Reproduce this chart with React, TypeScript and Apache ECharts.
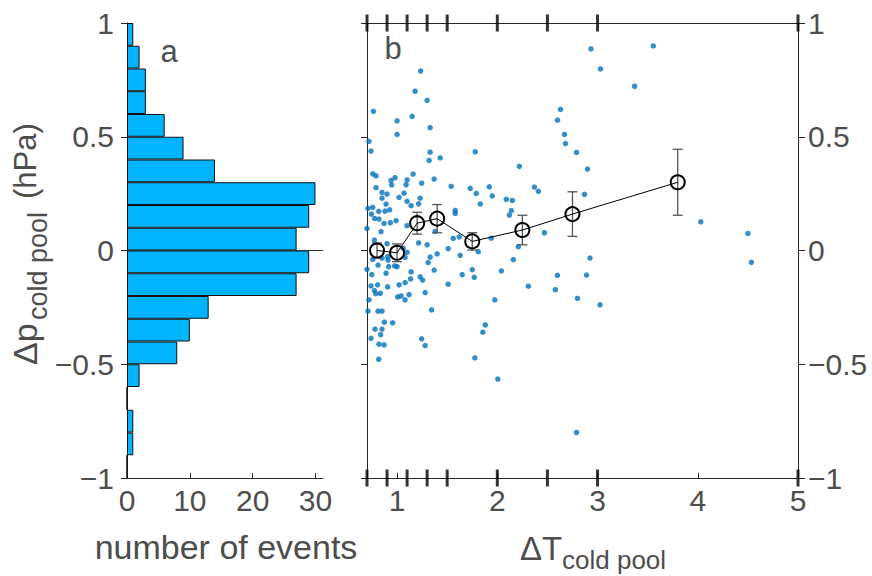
import React, { useEffect, useRef } from 'react';
import * as echarts from 'echarts';

// Histogram (panel a): bins of Δp (lower edges, hPa), counted from bottom to top
const histBins = ['-1.0', '-0.9', '-0.8', '-0.7', '-0.6', '-0.5', '-0.4', '-0.3', '-0.2', '-0.1',
  '0.0', '0.1', '0.2', '0.3', '0.4', '0.5', '0.6', '0.7', '0.8', '0.9'];
const histCounts = [0, 1, 1, 0, 2, 8, 10, 13, 27, 29, 27, 29, 30, 14, 9, 6, 3, 3, 2, 1];
const histMax = 31.2;
const histTicks = [0, 10, 20, 30];

// Scatter (panel b): [ΔT cold pool, Δp cold pool]
const scatterPoints: [number, number][] = [
  [2.935, 0.886], [3.556, 0.899], [3.03, 0.798], [3.37, 0.722], [1.235, 0.789], [1.18, 0.70],
  [1.30, 0.66], [0.764, 0.612], [1.15, 0.59], [1.00, 0.57], [2.63, 0.62], [2.60, 0.573],
  [1.33, 0.54], [1.00, 0.51], [2.67, 0.51], [0.72, 0.48], [2.68, 0.47], [0.74, 0.437],
  [1.33, 0.432], [1.78, 0.434], [2.79, 0.431], [1.32, 0.396], [1.43, 0.407], [2.22, 0.37],
  [2.90, 0.358], [0.757, 0.337], [0.79, 0.328], [1.16, 0.336], [1.37, 0.314], [0.98, 0.32],
  [0.94, 0.308], [1.10, 0.31], [0.946, 0.288], [1.09, 0.289], [1.245, 0.296], [0.79, 0.276],
  [1.54, 0.282], [1.73, 0.273], [1.92, 0.28], [2.37, 0.279], [2.41, 0.26], [0.85, 0.255],
  [0.90, 0.248], [1.07, 0.252], [1.79, 0.251], [1.95, 0.24], [0.85, 0.23], [1.02, 0.233],
  [1.23, 0.23], [2.87, 0.247], [2.09, 0.225], [2.15, 0.22], [1.10, 0.216], [0.89, 0.204],
  [1.215, 0.205], [1.83, 0.204], [1.14, 0.197], [0.71, 0.185], [0.757, 0.19], [0.817, 0.172],
  [0.88, 0.173], [0.926, 0.179], [1.58, 0.176], [2.14, 0.175], [0.744, 0.16], [1.58, 0.163],
  [2.12, 0.156], [0.777, 0.141], [0.82, 0.138], [0.70, 0.097], [0.87, 0.119], [0.933, 0.122],
  [0.99, 0.131], [1.10, 0.109], [1.38, 0.084], [1.56, 0.053], [1.62, 0.06], [0.84, 0.083],
  [1.215, 0.033], [1.30, 0.025], [1.94, 0.054], [2.21, 0.017], [2.47, 0.078], [1.51, 0.008],
  [0.774, 0.046], [0.90, 0.03], [1.06, 0.01], [4.03, 0.126], [4.50, 0.075], [4.535, -0.052],
  [2.925, -0.033], [3.025, -0.239], [1.10, -0.008], [1.33, -0.029], [1.31, -0.053], [1.40, -0.015],
  [1.63, -0.021], [1.81, -0.005], [2.16, -0.04], [2.04, -0.09], [1.37, -0.086], [1.65, -0.106],
  [1.75, -0.084], [1.77, -0.118], [2.31, -0.157], [2.60, -0.109], [2.58, -0.172], [2.89, -0.108],
  [2.80, -0.21], [1.51, -0.148], [1.28, -0.185], [1.23, -0.116], [1.255, -0.13], [1.14, -0.094],
  [1.135, -0.125], [1.08, -0.141], [1.12, -0.194], [1.04, -0.2], [1.08, -0.217], [1.006, -0.204],
  [1.02, -0.151], [0.906, -0.16], [0.89, -0.1], [0.916, -0.071], [1.00, -0.071], [0.81, -0.064],
  [0.757, -0.039], [0.85, -0.034], [0.91, -0.042], [0.747, -0.106], [0.697, -0.159], [0.74, -0.156],
  [0.806, -0.151], [0.774, -0.176], [0.787, -0.19], [0.833, -0.188], [0.72, -0.217], [0.71, -0.266],
  [0.81, -0.267], [0.85, -0.266], [0.873, -0.315], [0.956, -0.318], [0.78, -0.346], [0.85, -0.346],
  [0.836, -0.37], [0.74, -0.386], [0.82, -0.412], [0.87, -0.415], [0.817, -0.478], [1.345, -0.261],
  [1.245, -0.388], [1.28, -0.418], [1.88, -0.327], [1.856, -0.359], [1.776, -0.472], [1.975, -0.217],
  [2.005, -0.565], [2.79, -0.80], [0.906, -0.027], [0.976, -0.068], [0.70, -0.083], [1.08, -0.03],
];

// Bin-averaged values with error bars
const binCenters = [0.8, 1.0, 1.2, 1.4, 1.75, 2.25, 2.75, 3.8];
const binMeans = [0.0, -0.01, 0.12, 0.14, 0.04, 0.09, 0.16, 0.30];
const binErrors = [0.033, 0.039, 0.048, 0.062, 0.038, 0.065, 0.098, 0.145];
const binEdges = [0.7, 0.9, 1.1, 1.3, 1.5, 2, 2.5, 3, 5];
const dTTicks = [1, 2, 3, 4, 5];
const dTMin = 0.7;
const dTMax = 5;

const FONT = '"Liberation Sans", Arial, Helvetica, sans-serif';
const TXT = '#4d4d4d';
const AX = '#262626';
const fmt = (v: number) => (v < 0 ? '\u2212' + String(Math.abs(v)) : String(v));

export default function App() {
  const ref = useRef<HTMLDivElement>(null);
  useEffect(() => {
    if (!ref.current) return;
    const chart = echarts.init(ref.current, null, { renderer: 'svg' });
    const axLine = { show: true, onZero: false, lineStyle: { color: AX, width: 1 } };
    const label = { fontSize: 30, color: TXT, fontFamily: FONT };
    const option: any = {
      animation: false,
      backgroundColor: '#ffffff',
      grid: [
        { left: 127, top: 23, width: 196, height: 455 },
        { left: 367, top: 23, width: 431, height: 455 },
      ],
      xAxis: [
        {
          gridIndex: 0, type: 'value', min: 0, max: histMax, position: 'bottom',
          axisLine: axLine,
          axisTick: { show: true, inside: true, length: 5, customValues: histTicks, lineStyle: { color: AX } },
          axisLabel: { ...label, customValues: histTicks, margin: 7 },
          splitLine: { show: false },
        },
        {
          gridIndex: 1, type: 'value', min: dTMin, max: dTMax, position: 'bottom',
          axisLine: axLine,
          axisTick: { show: true, inside: true, length: 5, customValues: dTTicks, lineStyle: { color: AX } },
          axisLabel: { ...label, customValues: dTTicks, margin: 7 },
          splitLine: { show: false },
        },
        {
          gridIndex: 1, type: 'value', min: dTMin, max: dTMax, position: 'top',
          axisLine: axLine, axisTick: { show: false }, axisLabel: { show: false }, splitLine: { show: false },
        },
      ],
      yAxis: [
        {
          gridIndex: 0, type: 'value', min: -1, max: 1, interval: 0.5, position: 'left',
          axisLine: axLine,
          axisTick: { show: true, inside: false, length: 6, lineStyle: { color: AX } },
          axisLabel: { ...label, formatter: fmt, margin: 13 },
          splitLine: { show: false },
        },
        { gridIndex: 0, type: 'category', data: histBins, show: false, boundaryGap: true },
        {
          gridIndex: 1, type: 'value', min: -1, max: 1, interval: 0.5, position: 'left',
          axisLine: axLine,
          axisTick: { show: true, inside: false, length: 6, lineStyle: { color: AX } },
          axisLabel: { show: false }, splitLine: { show: false },
        },
        {
          gridIndex: 1, type: 'value', min: -1, max: 1, interval: 0.5, position: 'right',
          axisLine: axLine,
          axisTick: { show: true, inside: false, length: 7, lineStyle: { color: AX } },
          axisLabel: { ...label, formatter: fmt, margin: 10 },
          splitLine: { show: false },
        },
      ],
      series: [
        {
          type: 'bar', xAxisIndex: 0, yAxisIndex: 1, data: histCounts,
          barWidth: '100%', barCategoryGap: '0%',
          itemStyle: { color: '#00b4ff', borderColor: '#111', borderWidth: 1 },
          z: 2,
        },
        {
          type: 'line', xAxisIndex: 0, yAxisIndex: 0, data: [[0, 0], [histMax, 0]],
          symbol: 'none', lineStyle: { color: '#333', width: 1 }, z: 3, silent: true,
        },
        {
          type: 'scatter', xAxisIndex: 1, yAxisIndex: 2, data: scatterPoints,
          symbolSize: 5.5, itemStyle: { color: '#0072bd' }, z: 2,
        },
        {
          type: 'custom', xAxisIndex: 1, yAxisIndex: 2,
          data: binCenters.map((c, i) => [c, binMeans[i], binErrors[i]]),
          renderItem: (params: any, api: any) => {
            const x = api.value(0), m = api.value(1), e = api.value(2);
            const top = api.coord([x, m + e]);
            const bot = api.coord([x, m - e]);
            const h = 5;
            const st = { stroke: '#555', lineWidth: 1.3 };
            return {
              type: 'group',
              children: [
                { type: 'line', shape: { x1: top[0], y1: top[1], x2: bot[0], y2: bot[1] }, style: st },
                { type: 'line', shape: { x1: top[0] - h, y1: top[1], x2: top[0] + h, y2: top[1] }, style: st },
                { type: 'line', shape: { x1: bot[0] - h, y1: bot[1], x2: bot[0] + h, y2: bot[1] }, style: st },
              ],
            };
          },
          z: 3,
        },
        {
          type: 'line', xAxisIndex: 1, yAxisIndex: 2,
          data: binCenters.map((c, i) => [c, binMeans[i]]),
          symbol: 'circle', symbolSize: 14,
          lineStyle: { color: '#000', width: 1 },
          itemStyle: { color: 'rgba(0,0,0,0)', borderColor: '#000', borderWidth: 2 },
          z: 4,
        },
        {
          type: 'scatter', xAxisIndex: 1, yAxisIndex: 2,
          data: binEdges.flatMap((e) => [[e, -1], [e, 1]]),
          symbol: 'rect', symbolSize: [3, 17], itemStyle: { color: '#000' }, clip: false, z: 5,
        },
      ],
      graphic: [
        { type: 'text', x: 169, y: 51, style: { text: 'a', fontSize: 31, fontFamily: FONT, fill: TXT, textAlign: 'center', textVerticalAlign: 'middle' } },
        { type: 'text', x: 393, y: 48, style: { text: 'b', fontSize: 31, fontFamily: FONT, fill: TXT, textAlign: 'center', textVerticalAlign: 'middle' } },
        { type: 'text', x: 226, y: 547, style: { text: 'number of events', fontSize: 34, fontFamily: FONT, fill: TXT, textAlign: 'center', textVerticalAlign: 'middle' } },
        { type: 'text', x: 520, y: 548, style: { text: '\u0394T', fontSize: 33, fontFamily: FONT, fill: TXT, textAlign: 'left', textVerticalAlign: 'middle' } },
        { type: 'text', x: 562, y: 560, style: { text: 'cold pool', fontSize: 26, fontFamily: FONT, fill: TXT, textAlign: 'left', textVerticalAlign: 'middle' } },
        {
          type: 'group', x: 25, y: 365, rotation: Math.PI / 2,
          children: [
            { type: 'text', x: 0, y: 0, style: { text: '\u0394p', fontSize: 34, fontFamily: FONT, fill: TXT, textAlign: 'left', textVerticalAlign: 'middle' } },
            { type: 'text', x: 45, y: 13, style: { text: 'cold pool', fontSize: 27, fontFamily: FONT, fill: TXT, textAlign: 'left', textVerticalAlign: 'middle' } },
            { type: 'text', x: 166, y: 0, style: { text: '(hPa)', fontSize: 31, fontFamily: FONT, fill: TXT, textAlign: 'left', textVerticalAlign: 'middle' } },
          ],
        },
      ],
    };
    chart.setOption(option);
    return () => chart.dispose();
  }, []);
  return <div ref={ref} style={{ position: 'absolute', left: 0, top: 0, width: 872, height: 576 }} />;
}
